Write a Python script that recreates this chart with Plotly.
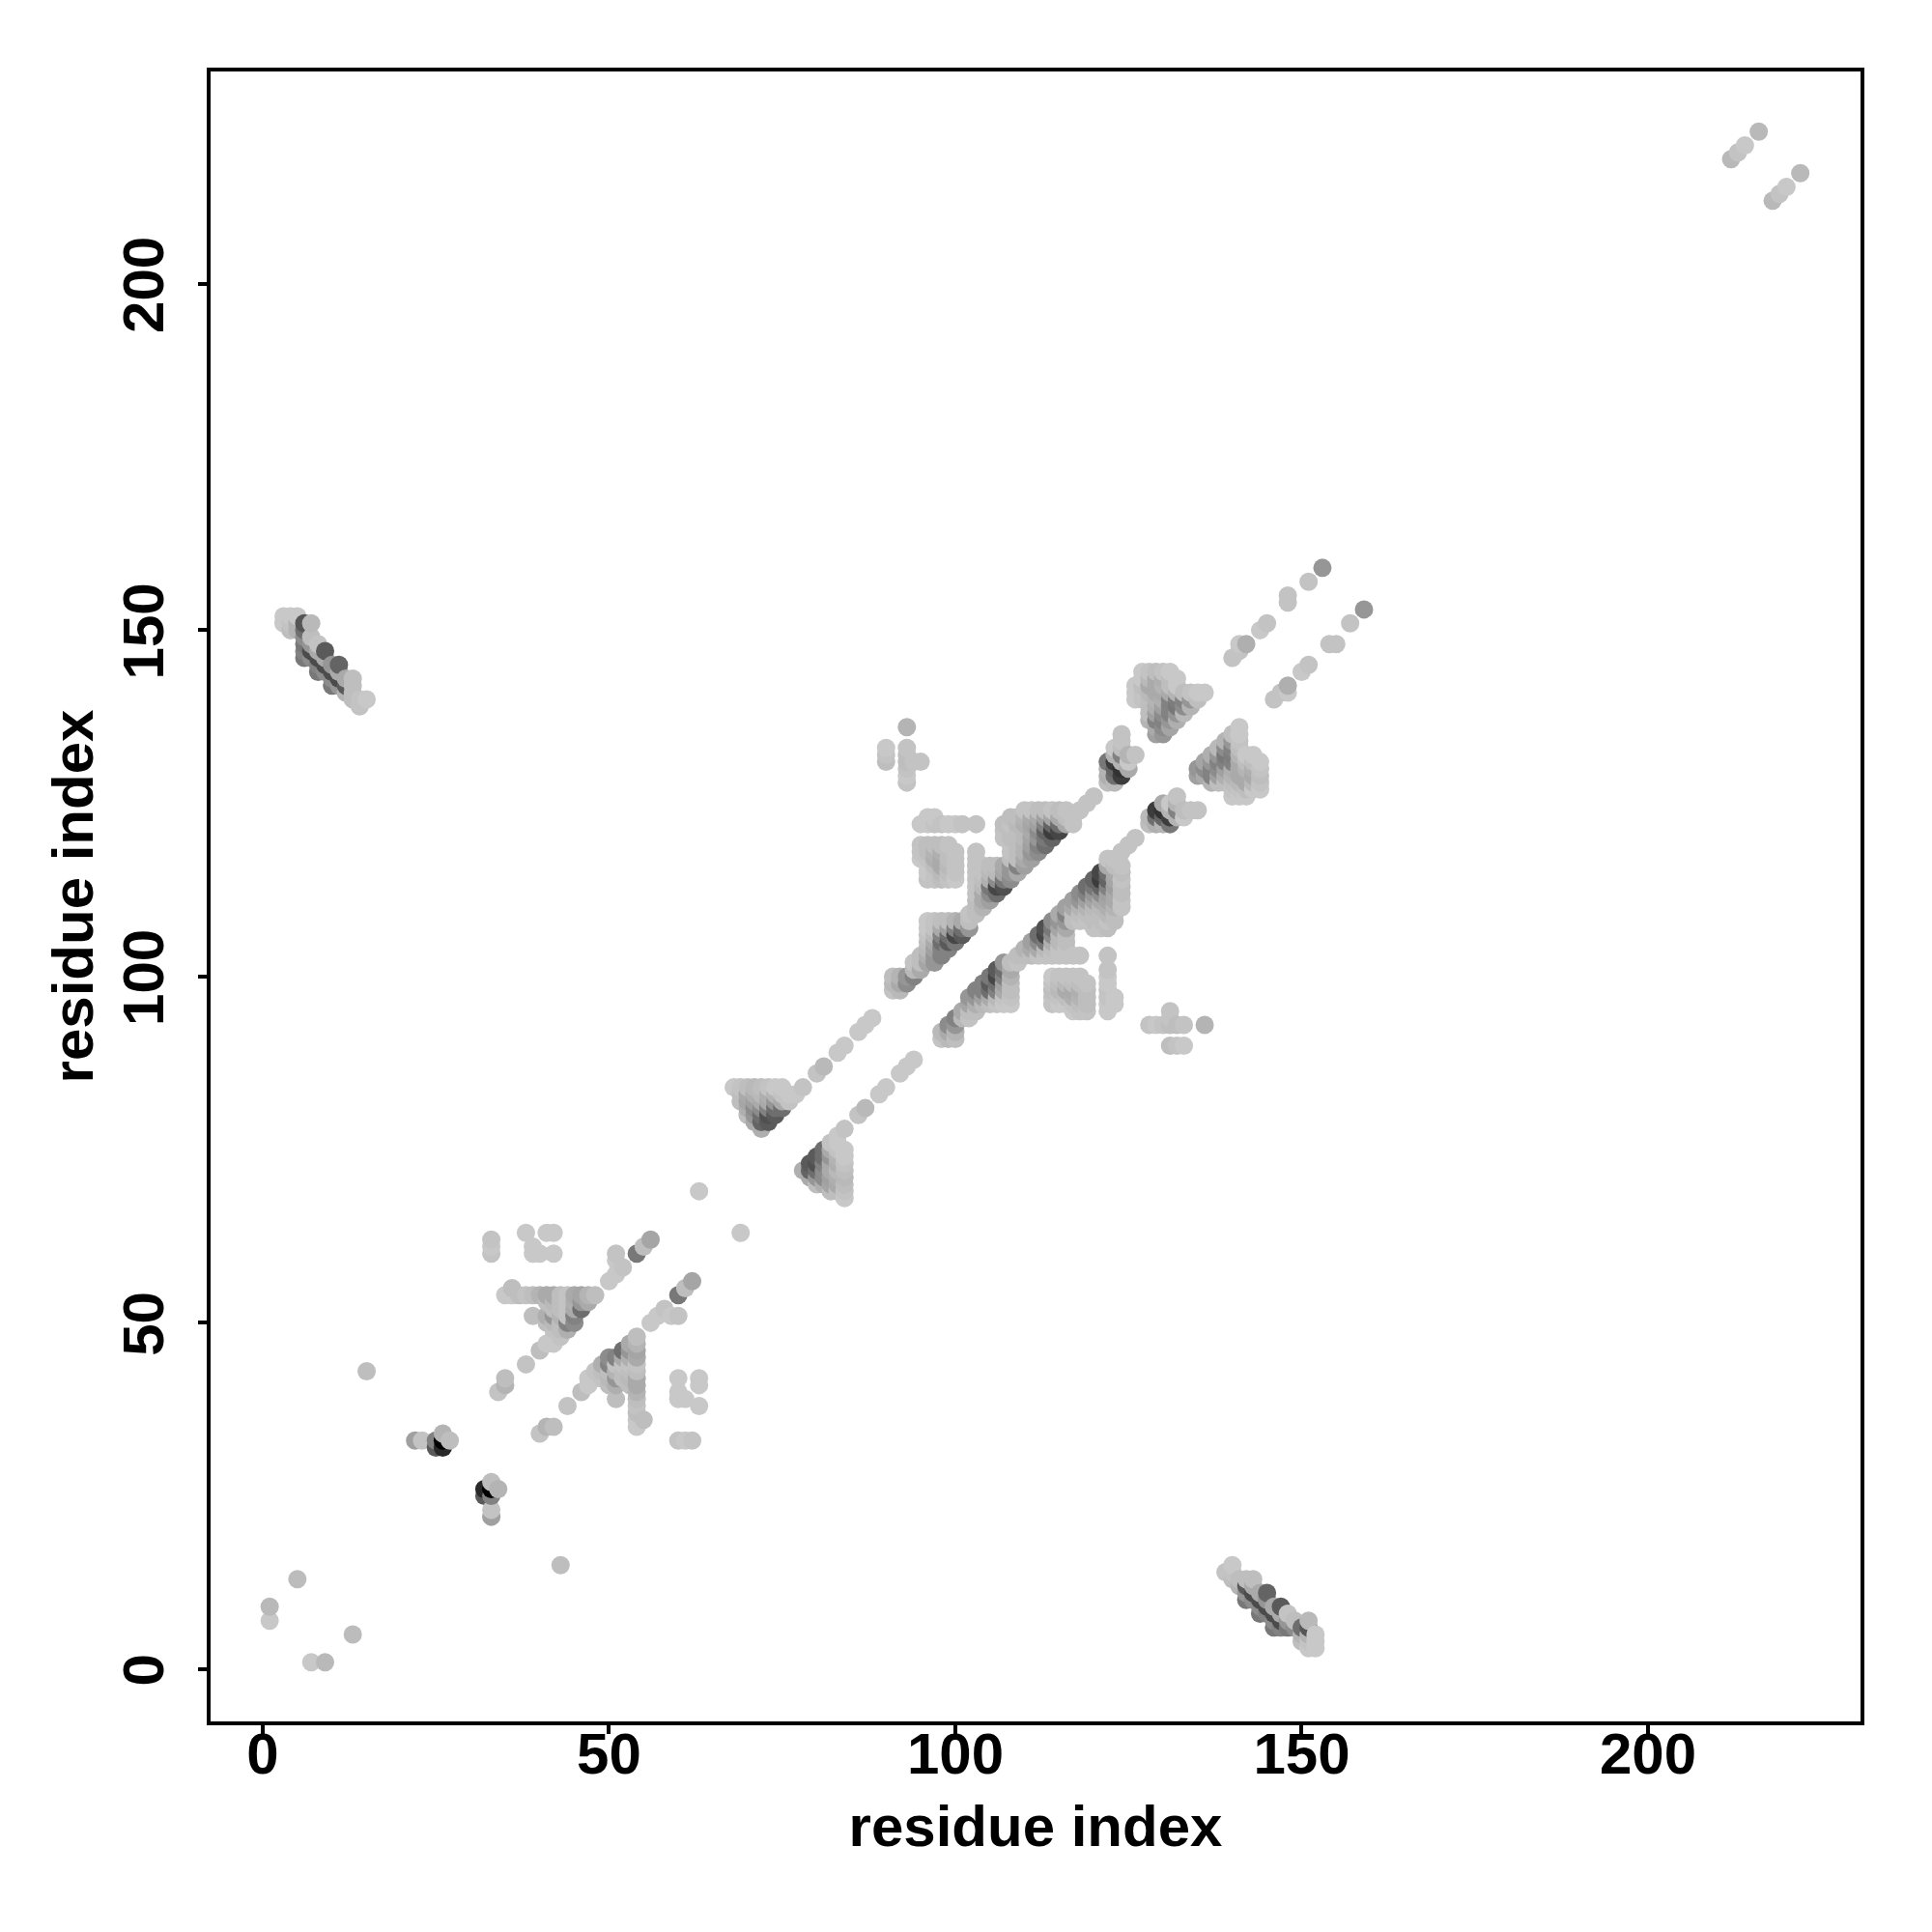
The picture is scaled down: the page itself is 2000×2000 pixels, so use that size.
import plotly.graph_objects as go

# Contact rows: residue j, the residues i (< j) in contact with it, and the printed grey of each
rows_j = [7, 9, 13, 43,
    152, 151, 150, 149, 148, 147, 146, 145, 144, 143, 142, 141, 140, 139,
    33, 34, 32,
    63, 62, 61, 60, 59, 57, 56, 58, 55, 54, 53, 52, 51, 50, 49, 48, 47, 46, 44, 42, 41, 40,
    69,
    84, 83, 82, 81, 80, 79, 78, 86, 87, 89, 90, 92, 93, 94,
    98, 99, 100, 101, 102, 103, 104, 105, 106, 107, 108, 109, 110, 111, 112, 113,
    114, 115, 116, 117, 118, 119, 120, 121, 122, 123, 124, 125, 126,
    128, 129, 130, 131, 132, 133, 134, 135, 136, 137, 138, 139, 140, 141, 142, 143, 144,
    146, 147, 148, 150, 151, 154, 155, 157, 159,
    218, 219, 220, 222]
rows_i = [[1], [1], [5], [15],
    [3,4,5], [3,4,5,6,7], [4,5,6], [6,7], [6,7,8], [6,7,8,9], [6,7,8,9], [8,9,10,11], [8,9,10,11], [10,11,12,13], [10,11,12,13], [12,13], [13,14,15], [14],
    [22,23,25,26,27], [26], [25,26],
    [38,41,42], [33,56], [33,39,55], [33,39,40,42,51,54], [51], [51], [50], [52], [36],
    [35,36,37,38,39,40,41,42,43,44,45,46,47,48], [41,42,43,44,45,46,47], [42,43,44,45,46], [39,41,42,43,44,45], [41,42,43,44,45], [42,43,44], [42,43], [41,42], [40], [38], [35], [35], [34],
    [63],
    [68,69,70,71,72,73,74,75,78], [69,70,71,72,73,74,75,76,77], [69,70,71,72,73,74,75,76], [70,71,72,73,74,75], [70,71,72,73,74], [71,72,73], [72], [80], [81], [83], [84], [86], [87], [88],
    [91,92], [91,92,93], [91,92,93,94], [94,95], [94,95,96,97], [95,96,97,98], [96,97,98,99], [96,97,98,99,100], [96,97,98,99,100,101], [96,97,98,99,100,101,102], [96,97,98,99,100,101,102], [102,103], [103,104], [103,104,105], [103,104,105,106], [103,104,105,106,107],
    [96,97,98,99,100,103,104,105,106,107,108], [96,97,98,99,100,103,104,105,106,107,108,109], [96,97,98,99,100,103,104,105,106,107,108,109,110], [95,96,97,98,99,100,103,108,109,110,111], [95,96,97,98,99,100,103,108,109,110,111,112], [95,96,97,98,99,108,109,110,111,112,113], [107,108,109,110,111,112,113,114], [107,108,109,110,111,112,113,114,115], [95,96,97,98,99,100,101,103,107,108,109,110,111,112,113,114,115,116,117], [96,97,108,109,110,111,112,113,114,115,116,117], [110,111,112,113,114,115,116,118], [119], [120],
    [93,122,123], [93,122,123,124], [93,122,123,124,125], [90,93,94,95,122,123,124,125], [90,93,123,124,125,126], [90,93,123,124], [124], [124,129,130], [93,129,130,131], [128,129,130,131,132], [128,129,130,131,132,133], [128,129,130,131,132,133,134], [126,127,128,129,130,131,132,133,134,135], [126,127,128,129,130,131,132,133,134,135,136], [126,127,128,129,130,131,132], [127,128,129,130,131,132], [127,128,129,130,131],
    [140], [141], [141,142], [144], [145], [148], [148], [151], [153],
    [212], [213], [214], [216]]
rows_grey = [[200], [185], [188], [190],
    [200,200,200], [200,195,180,85,185], [190,180,110], [140,190], [120,150,195], [130,75,170,90], [120,140,75,170], [130,75,150,100], [120,140,75,170], [140,75,170,190], [120,150,90,190], [180,190], [190,195,200], [195],
    [160,195,130,0,190], [180], [90,40],
    [200,200,200], [195,165], [200,200,190], [195,200,200,200,195,120], [200], [200], [200], [195], [190],
    [200,200,190,195,190,180,170,170,190,195,170,165,180,190], [190,185,190,195,175,150,170], [190,190,195,170,110], [190,175,150,180,195,130], [190,185,190,130,140], [195,190,175], [200,195], [200,200], [190], [195], [190], [180], [195],
    [200],
    [200,195,190,185,190,195,200,200,195], [190,170,175,185,175,180,195,200,200], [190,165,160,170,170,150,170,195], [175,140,140,130,110,110], [190,150,110,80,90], [170,100,90], [175], [195], [185], [200], [200], [200], [200], [200],
    [195,185], [185,170,140], [190,180,150,130], [185,170], [195,190,165,150], [190,175,150,130], [185,160,130,130], [190,170,110,90,120], [195,185,130,110,70,90], [200,195,170,160,130,110,150], [200,195,190,190,180,170,190], [195,190], [190,180], [190,170,160], [195,170,140,110], [195,185,120,70,80],
    [195,195,190,195,200,195,190,175,140,120,140], [200,195,185,190,195,195,195,185,185,165,150,170], [200,190,170,185,195,195,195,190,190,170,150,130,160], [200,195,175,170,190,195,195,190,190,170,160], [195,190,180,175,190,195,195,195,190,180,150,140], [195,190,190,190,195,195,190,180,160,130,110], [195,190,190,185,165,150,120,100], [195,190,190,185,170,140,100,60,70], [200,200,195,195,200,200,195,195,190,195,185,175,165,160,130,100,110,170,195], [200,200,190,190,180,170,170,160,165,170,190,195], [195,195,190,190,195,190,195,195], [195], [195],
    [195,190,185], [200,175,110,60], [195,180,100,50,170], [190,190,195,195,120,60,180,200], [195,190,180,130,180,195], [200,195,200,190], [195], [195,160,150], [180,170,140,165], [180,130,130,150,175], [190,160,140,130,150,185], [190,175,160,130,120,140,180], [200,195,190,180,175,130,125,130,150,190], [200,195,185,170,170,170,180,190,195,200,200], [200,190,170,170,180,190,200], [200,185,170,175,190,200], [200,195,190,195,200],
    [195], [195], [200,175], [200], [195], [195], [195], [195], [150],
    [185], [195], [200], [185]]

x, y, grey = [], [], []
for j, ii, gg in zip(rows_j, rows_i, rows_grey):
    for i, g in zip(ii, gg):
        x += [i, j]
        y += [j, i]
        grey += [g, g]
order = sorted(range(len(x)), key=lambda k: (x[k], y[k]))

fig = go.Figure(go.Scatter(
    x=[x[k] for k in order],
    y=[y[k] for k in order],
    mode="markers",
    marker=dict(size=19, line=dict(width=0), opacity=1,
                color=[f"rgb({grey[k]},{grey[k]},{grey[k]})" for k in order]),
    hoverinfo="skip",
))
font = dict(family="Liberation Sans", size=60, color="black", weight="bold")
axis = dict(
    tickmode="array", tickvals=[0, 50, 100, 150, 200],
    ticks="outside", ticklen=9, tickwidth=4, tickcolor="black",
    showgrid=False, zeroline=False, showline=True, linewidth=4, linecolor="black", mirror=True,
    tickfont=font,
)
fig.update_layout(
    width=2000, height=2000, showlegend=False, plot_bgcolor="white", paper_bgcolor="white",
    margin=dict(l=210, r=82, t=66, b=226, autoexpand=False),
    xaxis=dict(axis, range=[-7.53, 230.69], ticklabelstandoff=-31,
               title=dict(text="residue index", standoff=22, font=font)),
    yaxis=dict(axis, range=[-7.55, 230.67], tickangle=-90, ticklabelstandoff=12, ticklabelshift=10,
               title=dict(text="residue index", standoff=0, font=font)),
)
fig.write_html("out.html")
